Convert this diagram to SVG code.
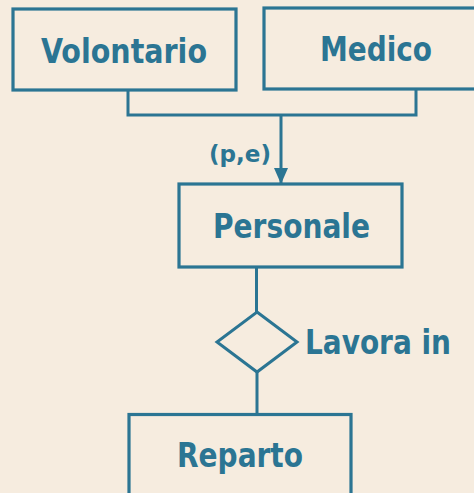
<svg xmlns="http://www.w3.org/2000/svg" width="474" height="493" viewBox="0 0 474 493">
<defs>
<style>
.box{fill:none;stroke:#2b7593;stroke-width:3.2}
.ln{fill:none;stroke:#2b7593;stroke-width:3}
.t{font-family:"DejaVu Sans Condensed","DejaVu Sans",sans-serif;font-stretch:condensed;font-weight:bold;fill:#2b7593;text-anchor:middle}
.big{font-size:33px}
.sm{font-size:23px}
</style>
<marker id="arr" viewBox="0 0 16 14" refX="16" refY="7" markerWidth="16" markerHeight="14" markerUnits="userSpaceOnUse" orient="auto">
<path d="M0,0 L16,7 L0,14 Z" fill="#2b7593"/>
</marker>
</defs>
<rect width="474" height="493" fill="#f6ecdf"/>
<g id="connectors">
<path class="ln" d="M128,90 V115 H416 V89"/>
<path class="ln" d="M281,115 V184" marker-end="url(#arr)"/>
<path class="ln" d="M256.5,267 V312"/>
<path class="ln" d="M257,372 V414"/>
<text class="t sm" x="240" y="162" textLength="62" lengthAdjust="spacingAndGlyphs">(p,e)</text>
</g>
<g id="volontario">
<rect class="box" x="13" y="9" width="223" height="81"/>
<text class="t big" x="124" y="63" textLength="166" lengthAdjust="spacingAndGlyphs">Volontario</text>
</g>
<g id="medico">
<rect class="box" x="264" y="8" width="215" height="81"/>
<text class="t big" x="376" y="61" textLength="112" lengthAdjust="spacingAndGlyphs">Medico</text>
</g>
<g id="personale">
<rect class="box" x="179" y="184" width="223" height="83"/>
<text class="t big" x="291.5" y="238" textLength="157" lengthAdjust="spacingAndGlyphs">Personale</text>
</g>
<g id="lavora-in">
<path class="ln" d="M257,312 L297,342 L257,372 L217,342 Z"/>
<text class="t big" x="378" y="354" textLength="146" lengthAdjust="spacingAndGlyphs">Lavora in</text>
</g>
<g id="reparto">
<rect class="box" x="129" y="414.5" width="222" height="90"/>
<text class="t big" x="240" y="467" textLength="126" lengthAdjust="spacingAndGlyphs">Reparto</text>
</g>
</svg>
